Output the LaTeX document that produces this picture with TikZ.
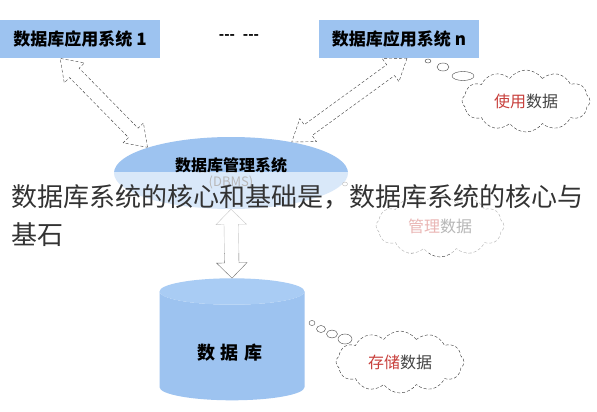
\documentclass[tikz,border=0pt]{standalone}
\usepackage{fontspec}
\setmainfont{Noto Sans CJK SC}
\usepackage{tikz}
\usetikzlibrary{shapes.geometric,shapes.symbols,shapes.arrows,calc}

\definecolor{dbblue}{HTML}{9DC3F0}
\definecolor{dbcap}{HTML}{A9CCF4}
\definecolor{wordred}{HTML}{C8403C}
\definecolor{wordgray}{HTML}{444444}
\definecolor{captext}{HTML}{333333}

\tikzset{
  appbox/.style={rectangle, fill=dbblue, minimum width=160pt, minimum height=38pt, inner sep=0pt,
    font=\bfseries\fontsize{17}{19}\selectfont},
  dbellipse/.style={ellipse, fill=dbblue, minimum width=234pt, minimum height=72pt, inner sep=0pt, align=center},
  dbcyl/.style={cylinder, shape border rotate=90, aspect=0.4, cylinder uses custom fill,
    cylinder body fill=dbblue, cylinder end fill=dbcap, minimum width=145pt, minimum height=122pt, inner sep=0pt,
    font=\bfseries\fontsize{18}{20}\selectfont},
  thought/.style={cloud, cloud puffs=12, cloud puff arc=110, aspect=2.1, draw=black!80, densely dashed, thin,
    minimum width=128pt, minimum height=62pt, inner sep=0pt, font=\fontsize{16}{18}\selectfont},
  bubble/.style={ellipse, draw=black!75, thin, fill=white, inner sep=0pt},
  darrow/.style={double arrow, draw=black!75, densely dashed, fill=white, inner sep=6.5pt,
    double arrow head extend=7.5pt, double arrow tip angle=70},
  varrow/.style={double arrow, draw=black!55, fill=white, inner sep=7pt,
    double arrow head extend=8pt}
}

\begin{document}
\begin{tikzpicture}[x=1pt, y=-1pt]
\useasboundingbox (0,0) rectangle (597,412);
\fill[white] (0,0) rectangle (597,412);

\node[appbox] (box1) at (80,39) {数据库应用系统 1};
\node[appbox] (boxn) at (399,39) {数据库应用系统 n};
\node[font=\bfseries\fontsize{14}{16}\selectfont] (dots) at (239,37) {-{}-{}-\,\, -{}-{}-};

\node[dbellipse] (dbms) at (231,173) {\textbf{\fontsize{16}{18}\selectfont 数据库管理系统}\\[2pt]
  {\fontsize{13}{15}\selectfont\color{wordgray}(DBMS)}};
\node[dbcyl] (db) at (232,346) {\phantom{数\,\,据\,\,库}};
\node[font=\bfseries\fontsize{18}{20}\selectfont] (dblabel) at (230,353) {数\,\,据\,\,库};

% clouds
\node[thought] (use) at (526,101) {\textcolor{wordred}{使用}\textcolor{wordgray}{数据}};
\node[thought] (manage) at (440,226) {\textcolor{wordred}{管理}\textcolor{wordgray}{数据}};
\node[thought] (store) at (400,362) {\textcolor{wordred}{存储}\textcolor{wordgray}{数据}};

\node[bubble, minimum width=6pt, minimum height=4pt] (u1) at (428,61) {};
\node[bubble, minimum width=12pt, minimum height=8pt] (u2) at (443,67) {};
\node[bubble, minimum width=22pt, minimum height=9pt] (u3) at (463,76) {};
\node[bubble, minimum width=5pt, minimum height=4pt] (m1) at (345,184) {};
\node[bubble, minimum width=9pt, minimum height=6pt] (m2) at (359,192) {};
\node[bubble, minimum width=6pt, minimum height=5pt] (s1) at (312,323) {};
\node[bubble, minimum width=9pt, minimum height=7pt] (s2) at (321,329) {};
\node[bubble, minimum width=11pt, minimum height=8pt] (s3) at (332,334) {};
\node[bubble, minimum width=14pt, minimum height=10pt] (s4) at (345,339) {};

% arrows between the parts
\coordinate (b1tip) at ($(box1.south west)!0.375!(box1.south east)$);
\coordinate (bntip) at ($(boxn.south west)!0.55!(boxn.south east)$);
\path let \p1=($(dbms.163)-(b1tip)$), \n1={atan2(\y1,\x1)}, \n2={veclen(\x1,\y1)} in
  node[darrow, minimum height=\n2, rotate=\n1] (arr1) at ($(b1tip)!0.5!(dbms.163)$) {};
\path let \p1=($(bntip)-(dbms.27)$), \n1={atan2(\y1,\x1)}, \n2={veclen(\x1,\y1)} in
  node[darrow, minimum height=\n2, rotate=\n1] (arrn) at ($(dbms.27)!0.5!(bntip)$) {};
\path let \p1=($(db.north)-(dbms.south)$), \n1={atan2(\y1,\x1)}, \n2={veclen(\x1,\y1)} in
  node[varrow, minimum height=\n2, rotate=\n1] (arrdb) at ($(dbms.south)!0.5!(db.north)$) {};

% caption over the picture
\fill[white, opacity=0.62] (0,172) rectangle (597,253);
\node[anchor=west, inner sep=0pt, text=captext, font=\fontsize{26}{30}\selectfont] (cap1) at (11,197)
  {数据库系统的核心和基础是，数据库系统的核心与};
\node[anchor=west, inner sep=0pt, text=captext, font=\fontsize{26}{30}\selectfont] (cap2) at (11,235) {基石};
\end{tikzpicture}
\end{document}
